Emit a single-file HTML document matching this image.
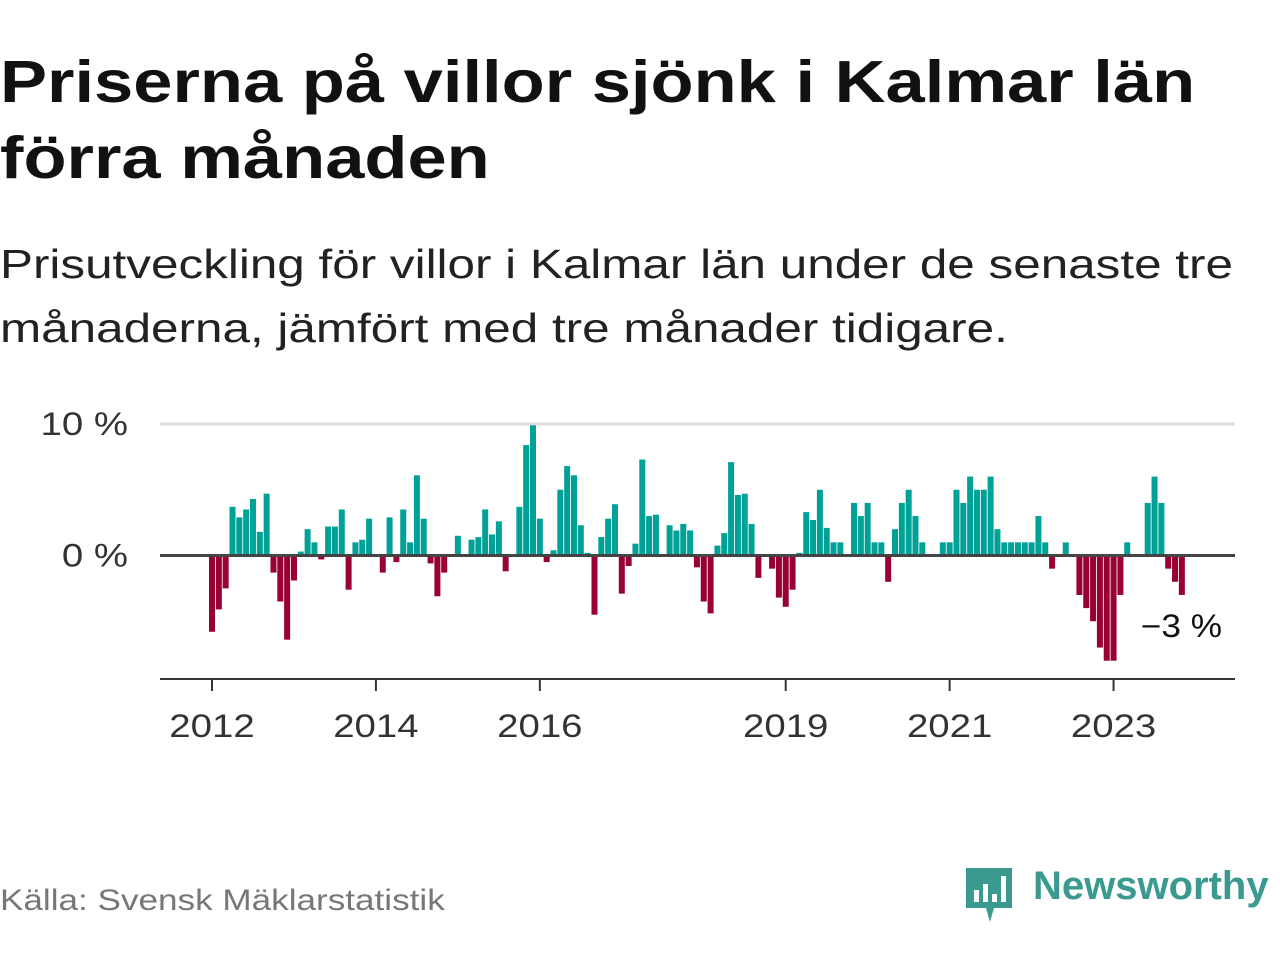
<!DOCTYPE html>
<html><head><meta charset="utf-8"><style>
body{margin:0;width:1280px;height:960px;background:#fff;font-family:"Liberation Sans",sans-serif;overflow:hidden;position:relative}
h1{position:absolute;left:0;top:44px;margin:0;font-size:59px;line-height:76px;font-weight:bold;color:#111;transform:scaleX(1.195);transform-origin:0 0;white-space:nowrap}
.sub{position:absolute;left:0;top:232px;font-size:41px;line-height:64px;color:#222;transform:scaleX(1.205);transform-origin:0 0;white-space:nowrap}
.src{position:absolute;left:0;top:884px;font-size:30px;color:#777;transform:scaleX(1.17);transform-origin:0 0;white-space:nowrap}
</style></head><body>
<h1>Priserna på villor sjönk i Kalmar län<br>förra månaden</h1>
<div class="sub">Prisutveckling för villor i Kalmar län under de senaste tre<br>månaderna, jämfört med tre månader tidigare.</div>
<svg id="chart" width="1280" height="960" style="position:absolute;left:0;top:0"></svg>
<div class="src">Källa: Svensk Mäklarstatistik</div>
<div style="position:absolute;left:964px;top:864px;">
<svg width="52" height="62"><path d="M2 4h46v40H30l-4 14-4-14H2z" fill="#3a9a8f"/><rect x="10" y="26" width="5" height="12" fill="#fff"/><rect x="19" y="20" width="5" height="18" fill="#fff"/><rect x="28" y="30" width="5" height="8" fill="#fff"/><rect x="37" y="12" width="5" height="26" fill="#fff"/></svg>
</div>
<div style="position:absolute;left:1033px;top:864px;font-size:40px;color:#3a9a8f;font-weight:bold">Newsworthy</div>
<script>
const values=[-5.8,-4.1,-2.5,3.7,2.9,3.5,4.3,1.8,4.7,-1.3,-3.5,-6.4,
-1.9,0.3,2.0,1.0,-0.3,2.2,2.2,3.5,-2.6,1.0,1.2,2.8,
0,-1.3,2.9,-0.5,3.5,1.0,6.1,2.8,-0.6,-3.1,-1.3,0,
1.5,0,1.2,1.4,3.5,1.6,2.6,-1.2,0,3.7,8.4,9.9,
2.8,-0.5,0.4,5.0,6.8,6.1,2.3,0.2,-4.5,1.4,2.8,3.9,
-2.9,-0.8,0.9,7.3,3.0,3.1,0,2.3,1.9,2.4,1.9,-0.9,
-3.5,-4.4,0.75,1.7,7.1,4.6,4.7,2.4,-1.7,0,-1.0,-3.2,
-3.9,-2.6,0.2,3.3,2.7,5.0,2.1,1.0,1.0,0,4.0,3.0,
4.0,1.0,1.0,-2.0,2.0,4.0,5.0,3.0,1.0,0,0,1.0,
1.0,5.0,4.0,6.0,5.0,5.0,6.0,2.0,1.0,1.0,1.0,1.0,
1.0,3.0,1.0,-1.0,0,1.0,0,-3.0,-4.0,-5.0,-7.0,-8.0,
-8.0,-3.0,1.0,0,0,4.0,6.0,4.0,-1.0,-2.0,-3.0];
const yTicks=[0,10];
const yTickLabels=["0 %","10 %"];
const xTickYears=[2012,2014,2016,2019,2021,2023];
const lastLabel="−3 %";
const NS="http://www.w3.org/2000/svg",svg=document.getElementById('chart');
const x=i=>212+6.83*i;
const y=v=>555.5-13.15*v;
function mk(t,a){const e=document.createElementNS(NS,t);for(const k in a)e.setAttribute(k,a[k]);svg.appendChild(e);return e;}
yTicks.forEach((t,k)=>{
  if(t!==0){const g=mk('line',{x1:160,x2:1235,y1:y(t),y2:y(t),stroke:'#ddd','stroke-width':3});
  
  }
  const l=mk('text',{x:128,y:y(t)+11,'text-anchor':'end','font-size':32,fill:'#333','font-family':'Liberation Sans, sans-serif',transform:'translate(128 0) scale(1.2 1) translate(-128 0)'});
  l.textContent=yTickLabels[k];
  
  
});
values.forEach((v,i)=>{
  const r=mk('rect',{x:x(i)-3,y:Math.min(y(v),y(0)),width:6,height:Math.abs(y(v)-y(0)),fill:v>=0?'#00a298':'#990036'});
  
  
});
const z=mk('line',{x1:160,x2:1235,y1:y(0),y2:y(0),stroke:'#444','stroke-width':3});


const ax=mk('line',{x1:160,x2:1235,y1:679,y2:679,stroke:'#333','stroke-width':2});


xTickYears.forEach(yr=>{
  const xi=x((yr-2012)*12);
  const t=mk('line',{x1:xi,x2:xi,y1:679,y2:691,stroke:'#333','stroke-width':2});
  
  
  const l=mk('text',{x:xi,y:737,'text-anchor':'middle','font-size':32,fill:'#333','font-family':'Liberation Sans, sans-serif',transform:'translate('+xi+' 0) scale(1.2 1) translate('+(-xi)+' 0)'});
  l.textContent=yr;
  
  
});
const ll=mk('text',{x:1222,y:637,'text-anchor':'end','font-size':32,fill:'#111','font-family':'Liberation Sans, sans-serif',transform:'translate(1222 0) scale(1.1 1) translate(-1222 0)'});
ll.textContent=lastLabel;


</script>
</body></html>
